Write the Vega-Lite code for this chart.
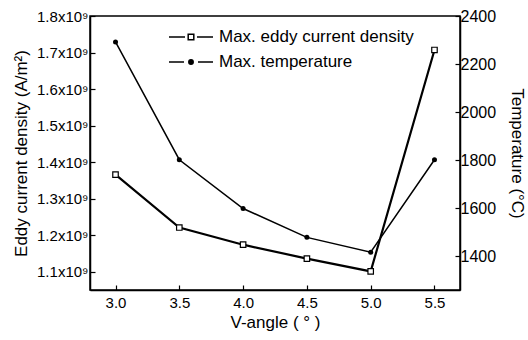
{
  "$schema": "https://vega.github.io/schema/vega-lite/v6.json",
  "autosize": {"type": "none"},
  "padding": {"left": 90, "top": 16, "right": 68, "bottom": 50},
  "width": 370,
  "height": 274,
  "background": "white",
  "config": {
    "view": {"stroke": "black", "strokeWidth": 1.5},
    "font": "Liberation Sans",
    "axis": {
      "grid": false,
      "domainColor": "black",
      "domainWidth": 1.5,
      "tickColor": "black",
      "tickWidth": 1.2,
      "tickSize": -5,
      "labelOverlap": false,
      "labelFont": "Liberation Sans",
      "labelFontSize": 15,
      "labelColor": "black",
      "titleFont": "Liberation Sans",
      "titleFontSize": 17,
      "titleFontWeight": "normal",
      "titleColor": "black"
    }
  },
  "data": {
    "values": [
      {"angle": 3.0, "eddy": 1366000000, "temp": 2292},
      {"angle": 3.5, "eddy": 1221000000, "temp": 1802},
      {"angle": 4.0, "eddy": 1174000000, "temp": 1599},
      {"angle": 4.5, "eddy": 1136000000, "temp": 1479},
      {"angle": 5.0, "eddy": 1101000000, "temp": 1417},
      {"angle": 5.5, "eddy": 1707000000, "temp": 1802}
    ]
  },
  "encoding": {
    "x": {
      "field": "angle",
      "type": "quantitative",
      "scale": {"domain": [2.8, 5.7], "nice": false, "zero": false},
      "axis": {
        "title": "V-angle ( ° )",
        "values": [3.0, 3.5, 4.0, 4.5, 5.0, 5.5],
        "format": ".1f",
        "labelPadding": 10,
        "titlePadding": 4
      }
    }
  },
  "layer": [
    {
      "encoding": {
        "y": {
          "field": "eddy",
          "type": "quantitative",
          "scale": {"domain": [1050000000, 1800000000], "nice": false, "zero": false},
          "axis": {
            "title": "Eddy current density (A/m²)",
            "values": [1100000000, 1200000000, 1300000000, 1400000000, 1500000000, 1600000000, 1700000000, 1800000000],
            "labelExpr": "format(datum.value / 1e9, '.1f') + 'x10⁹'",
            "labelOverlap": false,
            "labelBound": false,
            "labelPadding": 7,
            "titlePadding": 6
          }
        }
      },
      "layer": [
        {
          "mark": {"type": "line", "color": "black", "strokeWidth": 2.2},
          "encoding": {
            "color": {
              "datum": "Max. eddy current density",
              "type": "nominal",
              "scale": {"domain": ["Max. eddy current density", "Max. temperature"], "range": ["black", "black"]},
              "legend": {
                "orient": "none",
                "legendX": 90,
                "legendY": 10,
                "title": null,
                "padding": 0,
                "symbolSize": 400,
                "symbolStrokeWidth": 1.5,
                "symbolStrokeColor": "black",
                "symbolOpacity": 1,
                "labelOffset": 17,
                "labelLimit": 400,
                "labelFont": "Liberation Sans",
                "labelFontSize": 17,
                "labelColor": "black",
                "rowPadding": 6,
                "encode": {
                  "symbols": {
                    "update": {
                      "shape": {"signal": "datum.value === 'Max. temperature' ? 'M-2.2,0H-0.7M0.7,0H2.2M-0.22,0A0.22,0.22 0 1,0 0.22,0A0.22,0.22 0 1,0 -0.22,0Z' : 'M-2.2,0H-0.6M0.6,0H2.2M-0.28,-0.28H0.28V0.28H-0.28Z'"},
                      "fill": {"signal": "datum.value === 'Max. temperature' ? 'black' : 'white'"},
                      "fillOpacity": {"value": 1},
                      "stroke": {"value": "black"},
                      "strokeWidth": {"value": 1.5}
                    }
                  }
                }
              }
            }
          }
        },
        {
          "mark": {"type": "point", "shape": "square", "filled": true, "fill": "white", "stroke": "black", "strokeWidth": 1.2, "size": 30, "opacity": 1}
        }
      ]
    },
    {
      "encoding": {
        "y": {
          "field": "temp",
          "type": "quantitative",
          "scale": {"domain": [1260, 2400], "nice": false, "zero": false},
          "axis": {
            "orient": "right",
            "title": "Temperature (°C)",
            "values": [1400, 1600, 1800, 2000, 2200, 2400],
            "format": "d",
            "labelOverlap": false,
            "labelFontSize": 16,
            "labelPadding": 5,
            "titlePadding": 12
          }
        }
      },
      "layer": [
        {
          "mark": {"type": "line", "color": "black", "strokeWidth": 1.5},
          "encoding": {
            "color": {"datum": "Max. temperature", "type": "nominal"}
          }
        },
        {
          "mark": {"type": "point", "shape": "circle", "filled": true, "color": "black", "size": 25, "opacity": 1}
        }
      ]
    }
  ],
  "resolve": {"scale": {"y": "independent"}}
}
